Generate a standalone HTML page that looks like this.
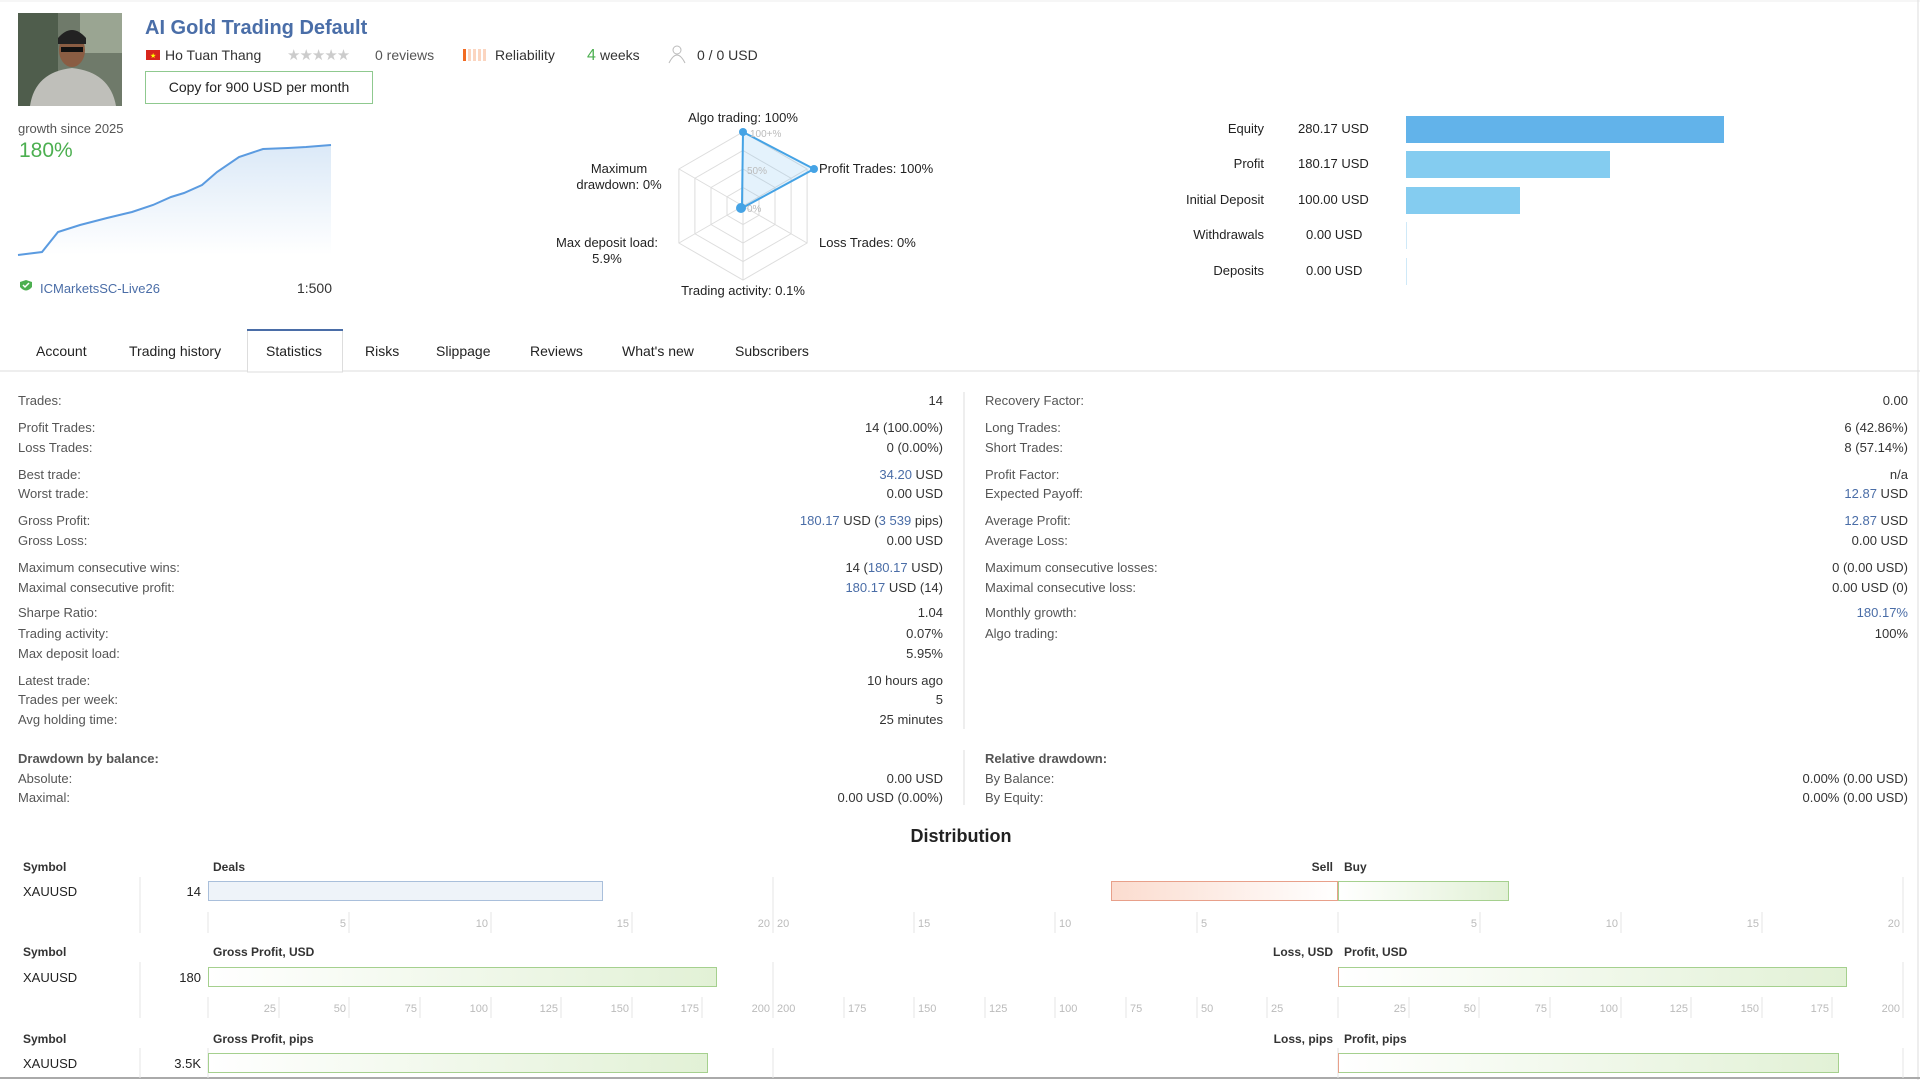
<!DOCTYPE html>
<html><head><meta charset="utf-8"><style>
html,body{margin:0;padding:0;background:#fff;width:1920px;height:1080px;overflow:hidden}
svg{display:block;font-family:"Liberation Sans",sans-serif}
.l{font-size:13px;fill:#555}
.v{font-size:13px;fill:#333;text-anchor:end}
.b{fill:#4a6da7}
.tk{font-size:11px;fill:#bbb}
.tl{stroke:#e4e4e4;stroke-width:1}
.h{font-size:12px;font-weight:bold;fill:#333}
</style></head><body>
<svg width="1920" height="1080" viewBox="0 0 1920 1080">
<defs>
<linearGradient id="gf" x1="0" y1="0" x2="0" y2="1"><stop offset="0" stop-color="#dbe9f7"/><stop offset="1" stop-color="#fff"/></linearGradient>
<linearGradient id="gg" x1="0" y1="0" x2="1" y2="0"><stop offset="0" stop-color="#fff"/><stop offset="1" stop-color="#e2f1d6"/></linearGradient>
<linearGradient id="gr" x1="1" y1="0" x2="0" y2="0"><stop offset="0" stop-color="#fff"/><stop offset="1" stop-color="#fbdccf"/></linearGradient>
</defs>
<line x1="0" y1="1" x2="1920" y2="1" stroke="#eee"/>
<line x1="1918" y1="0" x2="1918" y2="1080" stroke="#ddd"/>
<line x1="0" y1="1078" x2="1920" y2="1078" stroke="#aaa" stroke-width="2"/>
<!-- avatar -->
<rect x="18" y="13" width="104" height="93" fill="#6f7a6a"/>
<rect x="18" y="13" width="40" height="93" fill="#4f5d4c"/>
<rect x="80" y="13" width="42" height="40" fill="#9aa592"/>
<ellipse cx="72" cy="50" rx="13" ry="17" fill="#8a5d43"/>
<path d="M58 38 Q72 22 86 38 L86 44 L58 44Z" fill="#222"/>
<rect x="61" y="47" width="22" height="5" fill="#111"/>
<path d="M30 106 Q35 72 72 68 Q110 72 116 106Z" fill="#bfbfba"/>
<!-- title -->
<text x="145" y="34" font-size="20" font-weight="bold" fill="#4a6ea8">AI Gold Trading Default</text>
<rect x="146" y="50" width="14" height="10" fill="#d8261c"/><text x="150" y="58" font-size="7" fill="#ff0">★</text>
<text x="165" y="60" font-size="14" fill="#333">Ho Tuan Thang</text>
<text x="287" y="60" font-size="15" fill="#ccc" letter-spacing="-1">★★★★★</text>
<text x="375" y="60" font-size="14" fill="#555">0 reviews</text>
<rect x="463" y="49" width="3" height="12" fill="#f26b21"/>
<rect x="468" y="49" width="3" height="12" fill="#fbd5c0"/><rect x="473" y="49" width="3" height="12" fill="#fbd5c0"/><rect x="478" y="49" width="3" height="12" fill="#fbd5c0"/><rect x="483" y="49" width="3" height="12" fill="#fbd5c0"/>
<text x="495" y="60" font-size="14" fill="#333">Reliability</text>
<text x="587" y="60" font-size="16" fill="#4caf50">4</text><text x="600" y="60" font-size="14" fill="#333">weeks</text>
<circle cx="677" cy="50" r="4" fill="none" stroke="#bbb"/><path d="M669 63 Q677 47 685 63" fill="none" stroke="#bbb"/>
<text x="697" y="60" font-size="14" fill="#333">0 / 0 USD</text>
<rect x="145.5" y="71.5" width="227" height="32" fill="#fff" stroke="#8fc98f"/>
<text x="259" y="92" font-size="14" fill="#222" text-anchor="middle">Copy for 900 USD per month</text>
<!-- growth -->
<text x="18" y="133" font-size="13" fill="#555">growth since 2025</text>
<text x="19" y="157" font-size="21" fill="#4caf50">180%</text>
<path d="M18 255 L42 252 L58 232 L80 225 L107 218 L132 212 L153 205 L171 197 L184 193 L202 185 L217 172 L239 157 L263 149 L288 148 L306 147 L331 145 L331 255Z" fill="url(#gf)"/>
<polyline points="18,255 42,252 58,232 80,225 107,218 132,212 153,205 171,197 184,193 202,185 217,172 239,157 263,149 288,148 306,147 331,145" fill="none" stroke="#5b9be0" stroke-width="2"/>
<path d="M20 282 L26 280 L32 282 L32 287 Q26 294 20 287Z" fill="#4caf50"/><path d="M23 285 l2 2 l4 -4" stroke="#fff" fill="none" stroke-width="1.5"/>
<text x="40" y="293" font-size="13" fill="#4a6da7">ICMarketsSC-Live26</text>
<text x="332" y="293" font-size="14" fill="#333" text-anchor="end">1:500</text>
<!-- radar -->
<g fill="none" stroke="#ddd">
<polygon points="743,132 807.1,169 807.1,243 743,280 678.9,243 678.9,169"/>
<polygon points="743,150.5 791.1,178.25 791.1,233.75 743,261.5 694.9,233.75 694.9,178.25"/>
<polygon points="743,169 775,187.5 775,224.5 743,243 711,224.5 711,187.5"/>
<polygon points="743,187.5 759,196.75 759,215.25 743,224.5 727,215.25 727,196.75"/>
<path d="M743 206L743 132M743 206L807 169M743 206L807 243M743 206L743 280M743 206L679 243M743 206L679 169"/>
</g>
<polygon points="743,132 814,169 744,207 740,209 739,208 742,205" fill="rgba(120,190,240,0.2)" stroke="#45a3e5" stroke-width="2"/>
<circle cx="743" cy="132" r="4" fill="#45a3e5"/><circle cx="814" cy="169" r="4" fill="#45a3e5"/><circle cx="741" cy="208" r="5" fill="#45a3e5"/>
<text x="750" y="137" font-size="10" fill="#bbb">100+%</text><text x="747" y="174" font-size="10" fill="#bbb">50%</text><text x="747" y="212" font-size="10" fill="#bbb">0%</text>
<g font-size="13" fill="#222">
<text x="743" y="122" text-anchor="middle">Algo trading: 100%</text>
<text x="819" y="173">Profit Trades: 100%</text>
<text x="619" y="173" text-anchor="middle">Maximum</text><text x="619" y="189" text-anchor="middle">drawdown: 0%</text>
<text x="819" y="247">Loss Trades: 0%</text>
<text x="607" y="247" text-anchor="middle">Max deposit load:</text><text x="607" y="263" text-anchor="middle">5.9%</text>
<text x="743" y="295" text-anchor="middle">Trading activity: 0.1%</text>
</g>
<!-- right bars -->
<g font-size="13" fill="#222">
<text x="1264" y="133" text-anchor="end">Equity</text><text x="1298" y="133">280.17 USD</text>
<text x="1264" y="168" text-anchor="end">Profit</text><text x="1298" y="168">180.17 USD</text>
<text x="1264" y="204" text-anchor="end">Initial Deposit</text><text x="1298" y="204">100.00 USD</text>
<text x="1264" y="239" text-anchor="end">Withdrawals</text><text x="1306" y="239">0.00 USD</text>
<text x="1264" y="275" text-anchor="end">Deposits</text><text x="1306" y="275">0.00 USD</text>
</g>
<rect x="1406" y="116" width="318" height="27" fill="#62b3ea"/>
<rect x="1406" y="151" width="204" height="27" fill="#84ccf0"/>
<rect x="1406" y="187" width="114" height="27" fill="#84ccf0"/>
<rect x="1406" y="222" width="1" height="27" fill="#cfe9f8"/>
<rect x="1406" y="258" width="1" height="27" fill="#cfe9f8"/>
<!-- tabs -->
<line x1="0" y1="371" x2="1920" y2="371" stroke="#ddd"/>
<rect x="247.5" y="330" width="95" height="42" fill="#fff" stroke="#ddd"/>
<line x1="247" y1="330" x2="343" y2="330" stroke="#4a6da7" stroke-width="2"/>
<g font-size="14" fill="#222">
<text x="36" y="356">Account</text><text x="129" y="356">Trading history</text><text x="266" y="356">Statistics</text><text x="365" y="356">Risks</text><text x="436" y="356">Slippage</text><text x="530" y="356">Reviews</text><text x="622" y="356">What's new</text><text x="735" y="356">Subscribers</text>
</g>
<!-- stats -->
<line x1="964" y1="392" x2="964" y2="729" stroke="#ddd"/><line x1="964" y1="750" x2="964" y2="805" stroke="#ddd"/>
<g>
<text class="l" x="18" y="405">Trades:</text><text class="v" x="943" y="405">14</text>
<text class="l" x="18" y="432">Profit Trades:</text><text class="v" x="943" y="432">14 (100.00%)</text>
<text class="l" x="18" y="452">Loss Trades:</text><text class="v" x="943" y="452">0 (0.00%)</text>
<text class="l" x="18" y="479">Best trade:</text><text class="v" x="943" y="479"><tspan class="b">34.20</tspan> USD</text>
<text class="l" x="18" y="498">Worst trade:</text><text class="v" x="943" y="498">0.00 USD</text>
<text class="l" x="18" y="525">Gross Profit:</text><text class="v" x="943" y="525"><tspan class="b">180.17</tspan> USD (<tspan class="b">3 539</tspan> pips)</text>
<text class="l" x="18" y="545">Gross Loss:</text><text class="v" x="943" y="545">0.00 USD</text>
<text class="l" x="18" y="572">Maximum consecutive wins:</text><text class="v" x="943" y="572">14 (<tspan class="b">180.17</tspan> USD)</text>
<text class="l" x="18" y="592">Maximal consecutive profit:</text><text class="v" x="943" y="592"><tspan class="b">180.17</tspan> USD (14)</text>
<text class="l" x="18" y="617">Sharpe Ratio:</text><text class="v" x="943" y="617">1.04</text>
<text class="l" x="18" y="638">Trading activity:</text><text class="v" x="943" y="638">0.07%</text>
<text class="l" x="18" y="658">Max deposit load:</text><text class="v" x="943" y="658">5.95%</text>
<text class="l" x="18" y="685">Latest trade:</text><text class="v" x="943" y="685">10 hours ago</text>
<text class="l" x="18" y="704">Trades per week:</text><text class="v" x="943" y="704">5</text>
<text class="l" x="18" y="724">Avg holding time:</text><text class="v" x="943" y="724">25 minutes</text>
<text class="l" x="18" y="763" font-weight="bold" fill="#333">Drawdown by balance:</text>
<text class="l" x="18" y="783">Absolute:</text><text class="v" x="943" y="783">0.00 USD</text>
<text class="l" x="18" y="802">Maximal:</text><text class="v" x="943" y="802">0.00 USD (0.00%)</text>

<text class="l" x="985" y="405">Recovery Factor:</text><text class="v" x="1908" y="405">0.00</text>
<text class="l" x="985" y="432">Long Trades:</text><text class="v" x="1908" y="432">6 (42.86%)</text>
<text class="l" x="985" y="452">Short Trades:</text><text class="v" x="1908" y="452">8 (57.14%)</text>
<text class="l" x="985" y="479">Profit Factor:</text><text class="v" x="1908" y="479">n/a</text>
<text class="l" x="985" y="498">Expected Payoff:</text><text class="v" x="1908" y="498"><tspan class="b">12.87</tspan> USD</text>
<text class="l" x="985" y="525">Average Profit:</text><text class="v" x="1908" y="525"><tspan class="b">12.87</tspan> USD</text>
<text class="l" x="985" y="545">Average Loss:</text><text class="v" x="1908" y="545">0.00 USD</text>
<text class="l" x="985" y="572">Maximum consecutive losses:</text><text class="v" x="1908" y="572">0 (0.00 USD)</text>
<text class="l" x="985" y="592">Maximal consecutive loss:</text><text class="v" x="1908" y="592">0.00 USD (0)</text>
<text class="l" x="985" y="617">Monthly growth:</text><text class="v" x="1908" y="617"><tspan class="b">180.17%</tspan></text>
<text class="l" x="985" y="638">Algo trading:</text><text class="v" x="1908" y="638">100%</text>
<text class="l" x="985" y="763" font-weight="bold" fill="#333">Relative drawdown:</text>
<text class="l" x="985" y="783">By Balance:</text><text class="v" x="1908" y="783">0.00% (0.00 USD)</text>
<text class="l" x="985" y="802">By Equity:</text><text class="v" x="1908" y="802">0.00% (0.00 USD)</text>
</g>
<!-- distribution -->
<text x="961" y="842" font-size="18" font-weight="bold" fill="#222" text-anchor="middle">Distribution</text>
<g class="tl">
<line x1="140" y1="877" x2="140" y2="933"/><line x1="773" y1="877" x2="773" y2="933"/><line x1="1903" y1="877" x2="1903" y2="933"/>
<line x1="140" y1="962" x2="140" y2="1018"/><line x1="773" y1="962" x2="773" y2="1018"/><line x1="1903" y1="962" x2="1903" y2="1018"/>
<line x1="140" y1="1048" x2="140" y2="1078"/><line x1="773" y1="1048" x2="773" y2="1078"/><line x1="1903" y1="1048" x2="1903" y2="1078"/>
<line x1="208" y1="912" x2="208" y2="933"/><line x1="349" y1="912" x2="349" y2="933"/><line x1="491" y1="912" x2="491" y2="933"/><line x1="632" y1="912" x2="632" y2="933"/>
<line x1="914" y1="912" x2="914" y2="933"/><line x1="1055" y1="912" x2="1055" y2="933"/><line x1="1197" y1="912" x2="1197" y2="933"/><line x1="1338" y1="912" x2="1338" y2="933"/><line x1="1480" y1="912" x2="1480" y2="933"/><line x1="1621" y1="912" x2="1621" y2="933"/><line x1="1762" y1="912" x2="1762" y2="933"/>
<line x1="208" y1="997" x2="208" y2="1018"/><line x1="279" y1="997" x2="279" y2="1018"/><line x1="349" y1="997" x2="349" y2="1018"/><line x1="420" y1="997" x2="420" y2="1018"/><line x1="491" y1="997" x2="491" y2="1018"/><line x1="561" y1="997" x2="561" y2="1018"/><line x1="632" y1="997" x2="632" y2="1018"/><line x1="702" y1="997" x2="702" y2="1018"/>
<line x1="844" y1="997" x2="844" y2="1018"/><line x1="914" y1="997" x2="914" y2="1018"/><line x1="985" y1="997" x2="985" y2="1018"/><line x1="1055" y1="997" x2="1055" y2="1018"/><line x1="1126" y1="997" x2="1126" y2="1018"/><line x1="1197" y1="997" x2="1197" y2="1018"/><line x1="1267" y1="997" x2="1267" y2="1018"/><line x1="1338" y1="997" x2="1338" y2="1018"/><line x1="1409" y1="997" x2="1409" y2="1018"/><line x1="1479" y1="997" x2="1479" y2="1018"/><line x1="1550" y1="997" x2="1550" y2="1018"/><line x1="1621" y1="997" x2="1621" y2="1018"/><line x1="1691" y1="997" x2="1691" y2="1018"/><line x1="1762" y1="997" x2="1762" y2="1018"/><line x1="1832" y1="997" x2="1832" y2="1018"/>
<line x1="208" y1="1048" x2="208" y2="1078"/><line x1="1338" y1="1048" x2="1338" y2="1078"/>
</g>
<g class="tk">
<text x="346" y="927" text-anchor="end">5</text><text x="488" y="927" text-anchor="end">10</text><text x="629" y="927" text-anchor="end">15</text><text x="770" y="927" text-anchor="end">20</text>
<text x="777" y="927">20</text><text x="918" y="927">15</text><text x="1059" y="927">10</text><text x="1201" y="927">5</text>
<text x="1477" y="927" text-anchor="end">5</text><text x="1618" y="927" text-anchor="end">10</text><text x="1759" y="927" text-anchor="end">15</text><text x="1900" y="927" text-anchor="end">20</text>
<text x="276" y="1012" text-anchor="end">25</text><text x="346" y="1012" text-anchor="end">50</text><text x="417" y="1012" text-anchor="end">75</text><text x="488" y="1012" text-anchor="end">100</text><text x="558" y="1012" text-anchor="end">125</text><text x="629" y="1012" text-anchor="end">150</text><text x="699" y="1012" text-anchor="end">175</text><text x="770" y="1012" text-anchor="end">200</text>
<text x="777" y="1012">200</text><text x="848" y="1012">175</text><text x="918" y="1012">150</text><text x="989" y="1012">125</text><text x="1059" y="1012">100</text><text x="1130" y="1012">75</text><text x="1201" y="1012">50</text><text x="1271" y="1012">25</text>
<text x="1406" y="1012" text-anchor="end">25</text><text x="1476" y="1012" text-anchor="end">50</text><text x="1547" y="1012" text-anchor="end">75</text><text x="1618" y="1012" text-anchor="end">100</text><text x="1688" y="1012" text-anchor="end">125</text><text x="1759" y="1012" text-anchor="end">150</text><text x="1829" y="1012" text-anchor="end">175</text><text x="1900" y="1012" text-anchor="end">200</text>
</g>
<g class="h">
<text x="23" y="871">Symbol</text><text x="213" y="871">Deals</text><text x="1333" y="871" text-anchor="end">Sell</text><text x="1344" y="871">Buy</text>
<text x="23" y="956">Symbol</text><text x="213" y="956">Gross Profit, USD</text><text x="1333" y="956" text-anchor="end">Loss, USD</text><text x="1344" y="956">Profit, USD</text>
<text x="23" y="1043">Symbol</text><text x="213" y="1043">Gross Profit, pips</text><text x="1333" y="1043" text-anchor="end">Loss, pips</text><text x="1344" y="1043">Profit, pips</text>
</g>
<g font-size="13" fill="#222">
<text x="23" y="896">XAUUSD</text><text x="201" y="896" text-anchor="end">14</text>
<text x="23" y="982">XAUUSD</text><text x="201" y="982" text-anchor="end">180</text>
<text x="23" y="1068">XAUUSD</text><text x="201" y="1068" text-anchor="end">3.5K</text>
</g>
<rect x="208.5" y="881.5" width="394" height="19" fill="#eef3f9" stroke="#a9bfdb"/>
<rect x="1111.5" y="881.5" width="226" height="19" fill="url(#gr)" stroke="#e8a08a"/>
<rect x="1338.5" y="881.5" width="170" height="19" fill="url(#gg)" stroke="#a5d08e"/>
<rect x="208.5" y="967.5" width="508" height="19" fill="url(#gg)" stroke="#a5d08e"/>
<rect x="1338.5" y="967.5" width="508" height="19" fill="url(#gg)" stroke="#a5d08e"/>
<line x1="1338.5" y1="967" x2="1338.5" y2="987" stroke="#e8a08a"/>
<rect x="208.5" y="1053.5" width="499" height="19" fill="url(#gg)" stroke="#a5d08e"/>
<rect x="1338.5" y="1053.5" width="500" height="19" fill="url(#gg)" stroke="#a5d08e"/>
<line x1="1338.5" y1="1053" x2="1338.5" y2="1073" stroke="#e8a08a"/>
</svg>
</body></html>
